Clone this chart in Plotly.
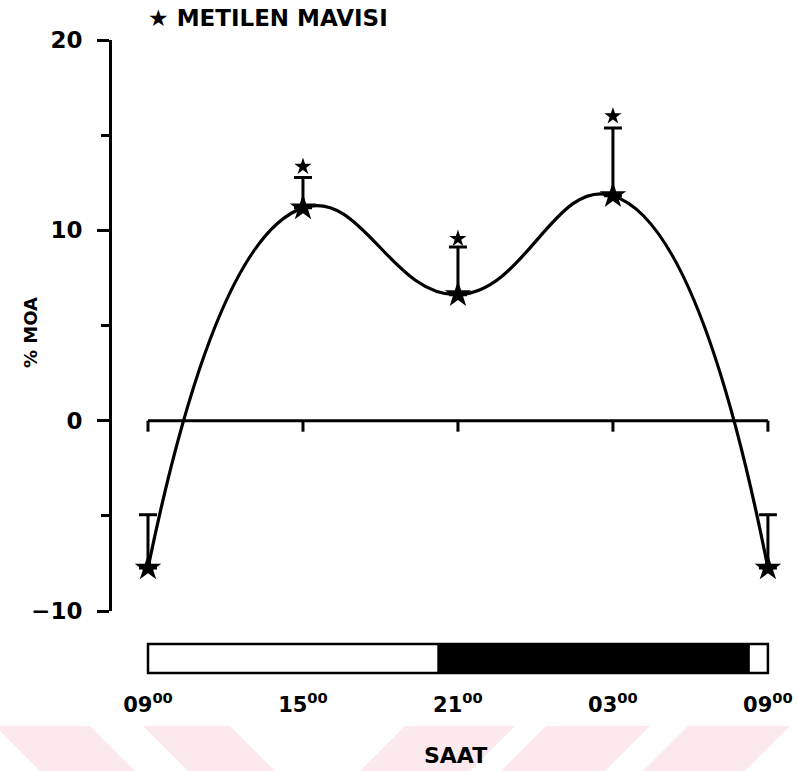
import plotly.graph_objects as go

# Sampling times as hours after 09:00, with the clock labels shown on the axis
hours = [0, 6, 12, 18, 24]
hour_labels = ["09<sup>00</sup>", "15<sup>00</sup>", "21<sup>00</sup>", "03<sup>00</sup>", "09<sup>00</sup>"]

# % MOA change (mean) and upper error (SEM) for methylene blue
moa_mean = [-7.74, 11.18, 6.62, 11.82, -7.74]
moa_err = [2.8, 1.6, 2.5, 3.55, 2.8]

# Significance markers (hour, y position)
sig_hours = [6, 12, 18]
sig_y = [13.35, 9.56, 16.0]

# Light/dark schedule (hours after 09:00)
light_start, dark_start, dark_end, light_end = 0, 11.2, 23.3, 24

y_ticks = [-10, 0, 10, 20]
y_minor = [-5, 5, 15]

W, H = 798, 771
ML, MR, MT, MB = 112, 8, 40, 160
PW, PH = W - ML - MR, H - MT - MB
FONT = "DejaVu Sans"


def px(x):
    return (x - ML) / PW


def py(y):
    return (H - MB - y) / PH


fig = go.Figure()

fig.add_trace(go.Scatter(
    x=hours, y=moa_mean, mode="lines",
    line=dict(color="black", width=3.2, shape="spline", smoothing=1.3),
    hoverinfo="skip", showlegend=False,
))
fig.add_trace(go.Scatter(
    x=hours, y=moa_mean, mode="markers",
    marker=dict(symbol="star", size=20, color="black"),
    error_y=dict(type="data", symmetric=False, array=moa_err,
                 arrayminus=[0] * len(moa_err), color="black", thickness=3, width=9),
    showlegend=False,
))
fig.add_trace(go.Scatter(
    x=sig_hours, y=sig_y, mode="markers",
    marker=dict(symbol="star", size=13, color="black"),
    showlegend=False,
))

shapes = []
# zero reference line with downward ticks at sampling times
shapes.append(dict(type="line", xref="x", yref="y", x0=hours[0], x1=hours[-1], y0=0, y1=0,
                   line=dict(color="black", width=3)))
for h in hours:
    shapes.append(dict(type="line", xref="x", yref="y", ysizemode="pixel", yanchor=0,
                       x0=h, x1=h, y0=0, y1=-11, line=dict(color="black", width=3)))

# light/dark bar
bar_top, bar_bot = py(644), py(673)
shapes.append(dict(type="rect", xref="x", yref="paper", x0=dark_start, x1=dark_end,
                   y0=bar_bot, y1=bar_top, fillcolor="black", line=dict(width=0)))
shapes.append(dict(type="rect", xref="x", yref="paper", x0=light_start, x1=light_end,
                   y0=bar_bot, y1=bar_top, fillcolor="rgba(0,0,0,0)",
                   line=dict(color="black", width=2.5)))

# faint pink diagonal band decoration along the bottom edge
bands = [
    ((-5, 90), (40, 135)),
    ((143, 230), (188, 275)),
    ((405, 515), (360, 470)),
    ((546, 650), (501, 605)),
    ((688, 790), (643, 745)),
]
y_top, y_bot = 726, 771
for (t0, t1), (b0, b1) in bands:
    path = (f"M {px(t0)} {py(y_top)} L {px(t1)} {py(y_top)} "
            f"L {px(b1)} {py(y_bot)} L {px(b0)} {py(y_bot)} Z")
    shapes.append(dict(type="path", xref="paper", yref="paper", path=path,
                       fillcolor="#fce9ed", line=dict(width=0), layer="below"))

annotations = [
    dict(text="<b>★ METILEN MAVISI</b>", x=px(146), y=py(18), xref="paper", yref="paper",
         xanchor="left", yanchor="middle", showarrow=False,
         font=dict(family=FONT, size=23, color="black")),
    dict(text="<b>% MOA</b>", x=px(30), y=py(333), xref="paper", yref="paper",
         xanchor="center", yanchor="middle", textangle=-90, showarrow=False,
         font=dict(family=FONT, size=18, color="black")),
    dict(text="<b>SAAT</b>", x=px(455), y=py(755), xref="paper", yref="paper",
         xanchor="center", yanchor="middle", showarrow=False,
         font=dict(family=FONT, size=22, color="black")),
]

fig.update_layout(
    width=W, height=H,
    margin=dict(l=ML, r=MR, t=MT, b=MB, autoexpand=False),
    paper_bgcolor="white", plot_bgcolor="white",
    shapes=shapes, annotations=annotations,
    xaxis=dict(
        range=[(ML - 148) / 25.83, (W - MR - 148) / 25.83],
        tickvals=hours, ticktext=[f"<b>{t}</b>" for t in hour_labels],
        showline=False, showgrid=False, zeroline=False, ticks="",
        ticklabelstandoff=79, automargin=False,
        tickfont=dict(family=FONT, size=21, color="black"),
    ),
    yaxis=dict(
        range=[-10, 20],
        tickvals=y_ticks, ticktext=[f"<b>{v if v >= 0 else '−' + str(-v)}</b>" for v in y_ticks],
        showline=True, linecolor="black", linewidth=3,
        ticks="outside", ticklen=12, tickwidth=3, tickcolor="black",
        minor=dict(tickvals=y_minor, ticks="outside", ticklen=8, tickwidth=3, tickcolor="black"),
        showgrid=False, zeroline=False, automargin=False,
        ticklabelstandoff=10,
        tickfont=dict(family=FONT, size=23, color="black"),
    ),
)

fig.write_html("out.html")
